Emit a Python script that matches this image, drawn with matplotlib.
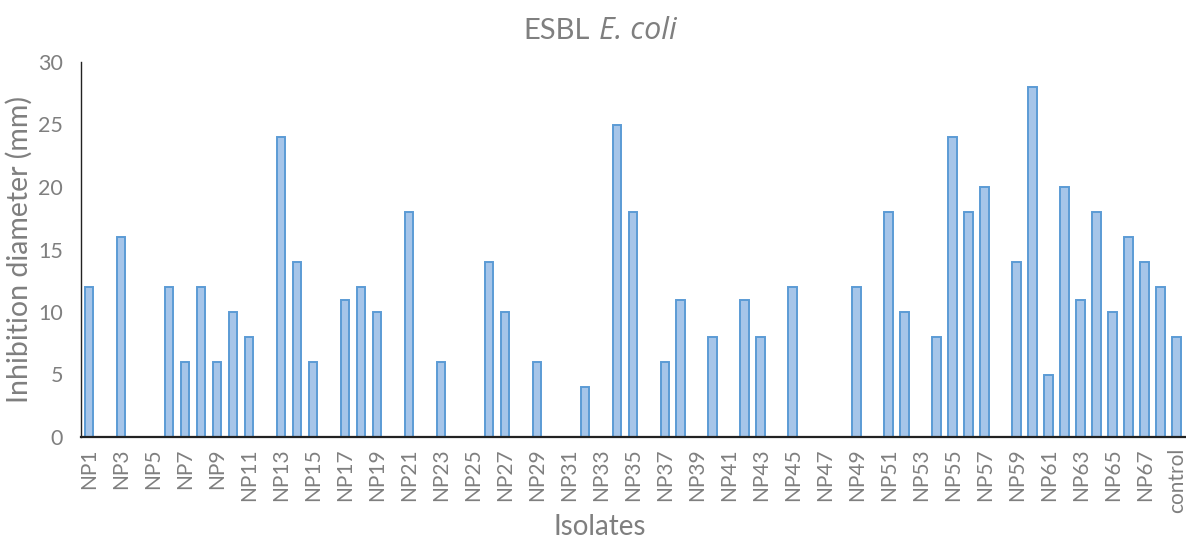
import numpy as np
import matplotlib.pyplot as plt

isolates = ["NP%d" % i for i in range(1, 69)] + ["control"]
diameter = [12, 0, 16, 0, 0, 12, 6, 12, 6, 10,
            8, 0, 24, 14, 6, 0, 11, 12, 10, 0,
            18, 0, 6, 0, 0, 14, 10, 0, 6, 0,
            0, 4, 0, 25, 18, 0, 6, 11, 0, 8,
            0, 11, 8, 0, 12, 0, 0, 0, 12, 0,
            18, 10, 0, 8, 24, 18, 20, 0, 14, 28,
            5, 20, 11, 18, 10, 16, 14, 12, 8]
yticks = [0, 5, 10, 15, 20, 25, 30]

grey = "#7f7f7f"
plt.rcParams['font.family'] = ['Lato', 'DejaVu Sans']

fig = plt.figure(figsize=(11.86, 5.40), dpi=100)
ax = fig.add_axes([81 / 1186, 1 - 437 / 540, 1 - 81 / 1186 - 0.001, (437 - 62) / 540])

x = np.arange(len(isolates))
ax.bar(x, diameter, width=0.55, color="#a6c5e9", edgecolor="#5b9bd5", linewidth=1.4)

ax.set_xlim(-0.5, len(isolates) - 0.5)
ax.set_ylim(0, 30)
ax.set_yticks(yticks)
ax.set_yticklabels([str(v) for v in yticks], color=grey, fontsize=15.5)
ax.set_xticks(x[::2])
ax.set_xticklabels(isolates[::2], rotation=90, color=grey, fontsize=15)
ax.tick_params(axis="both", length=0)
ax.tick_params(axis="x", pad=8)
ax.tick_params(axis="y", pad=13)

for s in ["top", "right"]:
    ax.spines[s].set_visible(False)
ax.spines["left"].set_color("#222222")
ax.spines["left"].set_linewidth(1.0)
ax.spines["bottom"].set_color("#222222")
ax.spines["bottom"].set_linewidth(1.6)

ax.set_ylabel("Inhibition diameter (mm)", color=grey, fontsize=20.5, labelpad=4)
fig.text(600 / 1186, 1 - 527 / 540, "Isolates", color=grey, fontsize=20,
         ha="center", va="center")

# title: upright "ESBL" + italic species name
ty = 1 - 31 / 540
fig.text(590 / 1186, ty, "ESBL", color=grey, fontsize=21, ha="right", va="center")
fig.text(599 / 1186, ty, "E. coli", color=grey, fontsize=22, style="italic",
         family=["Open Sans", "DejaVu Sans"], ha="left", va="center")

fig.savefig("out.png", dpi=100)
